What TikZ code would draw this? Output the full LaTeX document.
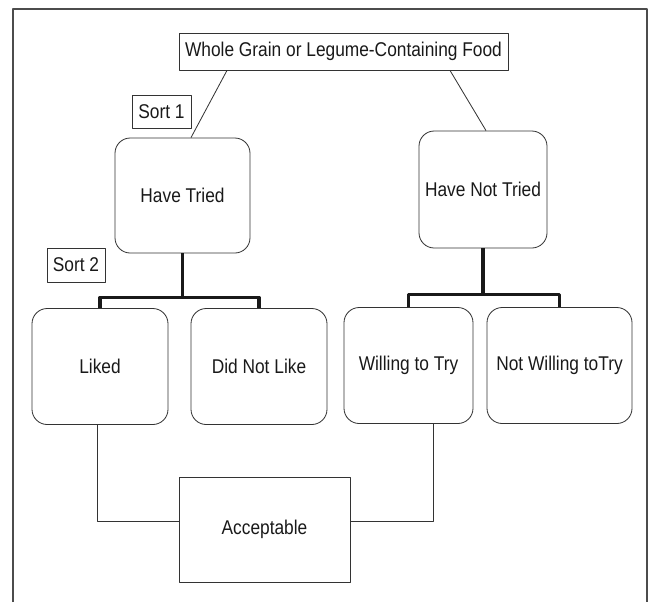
\documentclass[tikz,border=0pt]{standalone}
\usepackage{fontspec}
\setmainfont[FakeStretch=0.87]{Liberation Sans}
\usetikzlibrary{calc}

\begin{document}
\begin{tikzpicture}[x=0.03cm,y=-0.03cm,line join=round,
  line/.style={draw=black!80,line width=0.7pt},
  bar/.style={draw=black!90,line width=3pt},
  box/.style={line,rectangle,inner sep=0pt,text=black!90,font=\fontsize{17}{20}\selectfont},
  card/.style={box,rounded corners=13pt}]
\useasboundingbox (0,0) rectangle (650,602);
\draw[black!70,line width=1.4pt] (13,602)--(13,9)--(647,9)--(647,602);
% tree
\node[box,minimum width=9.87cm,minimum height=1.11cm] (food) at (343.5,51.5) {Whole Grain or Legume-Containing Food};
\node[box,minimum width=1.77cm,minimum height=0.99cm] (sort1) at (161.5,111.5) {Sort 1};
\node[box,minimum width=1.74cm,minimum height=1.02cm] (sort2) at (76,265) {Sort 2};
\node[card,minimum width=4.05cm,minimum height=3.45cm] (tried) at (182.5,195.5) {Have Tried};
\node[card,minimum width=3.84cm,minimum height=3.51cm] (nottried) at (483,189.5) {Have Not Tried};
\foreach \n/\x/\y/\w/\t in {liked/100/366.5/4.08/Liked, dislike/259/366.5/4.08/Did Not Like,
  willing/408.5/365.5/3.87/Willing to Try, notwilling/559.5/365.5/4.35/Not Willing toTry}
  \node[card,minimum width=\w cm,minimum height=3.48cm] (\n) at (\x,\y) {\t};
\node[box,minimum width=5.13cm,minimum height=3.15cm] (accept) at (264.5,529.5) {Acceptable};
% sort 1 lines
\draw[line] ($(food.south)+(-116.5,0)$) -- ($(tried.north)+(8.5,0)$);
\draw[line] ($(food.south)+(106.5,0)$) -- ($(nottried.north)+(3,0)$);
% sort 2 bars
\coordinate (split1) at ($(tried.south)+(0,44)$);
\coordinate (split2) at ($(nottried.south)+(0,46)$);
\draw[bar] (tried.south) -- (split1);
\draw[bar] (liked.north) |- (split1) -| (dislike.north);
\draw[bar] (nottried.south) -- (split2);
\draw[bar] (willing.north) |- (split2) -| (notwilling.north);
% acceptable
\draw[line] ($(liked.south)+(-3,0)$) |- ($(accept.west)+(0,-8.5)$);
\draw[line] ($(willing.south)+(24.5,0)$) |- ($(accept.east)+(0,-8.5)$);
\end{tikzpicture}
\end{document}
